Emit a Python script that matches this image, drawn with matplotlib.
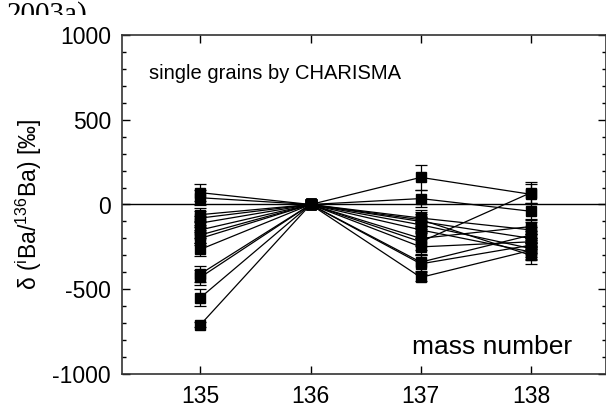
import matplotlib
matplotlib.use("Agg")
import matplotlib.pyplot as plt
import numpy as np
from matplotlib.patches import Rectangle
from matplotlib.ticker import MultipleLocator

plt.rcParams['font.family'] = ['Liberation Sans', 'DejaVu Sans']

mass_numbers = [135, 136, 137, 138]

# delta values (permil) per grain at masses 135, 136, 137, 138
d135 = [70, 40, -60, -80, -110, -150, -180, -200, -265, -410, -430, -550, -710]
d136 = [0, 0, 0, 0, 0, 0, 0, 0, 0, 0, 0, 0, 0]
d137 = [160, 35, -80, -100, -120, -200, -250, -90, -340, -430, -350, -220, -150]
d138 = [60, -40, -150, -200, -260, -130, -220, -300, -180, -270, -240, 70, -280]

e135 = [50, 45, 40, 40, 40, 45, 45, 40, 40, 45, 45, 50, 15]
e136 = [5, 5, 5, 5, 5, 5, 5, 5, 5, 5, 5, 5, 5]
e137 = [75, 50, 45, 45, 45, 45, 50, 45, 50, 20, 50, 50, 45]
e138 = [60, 50, 45, 45, 50, 45, 45, 50, 45, 50, 45, 60, 50]

yticks = [-1000, -500, 0, 500, 1000]
xticks = [135, 136, 137, 138]

fig = plt.figure(figsize=(6.06, 4.15), dpi=100)
ax = fig.add_axes([122/606, 41/415, 484/606, 339/415])

for i in range(len(d135)):
    ys = [d135[i], d136[i], d137[i], d138[i]]
    es = [e135[i], e136[i], e137[i], e138[i]]
    ax.errorbar(mass_numbers, ys, yerr=es, color='black', lw=0.9,
                marker='s', ms=6.5, mfc='black', mec='black',
                ecolor='black', elinewidth=0.9, capsize=4, capthick=0.9)

ax.axhline(0, color='black', lw=1.0, zorder=0)

ax.set_xlim(134.29, 138.68)
ax.set_ylim(-1000, 1000)
ax.set_xticks(xticks)
ax.set_xticklabels([str(t) for t in xticks])
ax.set_yticks(yticks)
ax.set_yticklabels([str(t) for t in yticks])
ax.yaxis.set_minor_locator(MultipleLocator(100))

ax.tick_params(axis='both', which='major', direction='in', top=True, right=True,
               labelsize=16.5, length=6, width=1, pad=8, colors='black')
ax.tick_params(axis='y', which='minor', direction='in', left=True, right=True,
               length=3, width=1)
for s in ax.spines.values():
    s.set_linewidth(1.2)
    s.set_color('#333333')

ax.set_ylabel(r'δ ($^{\mathregular{i}}$Ba/$^{\mathregular{136}}$Ba) [‰]', fontsize=16.5, labelpad=6)

ax.text(0.055, 0.885, 'single grains by CHARISMA', transform=ax.transAxes,
        fontsize=14.5, ha='left', va='center')
ax.text(0.6, 0.08, 'mass number', transform=ax.transAxes,
        fontsize=19, ha='left', va='center')

fig.text(7/606, 1 - 1/415, '2003a)', fontsize=21, family=['Liberation Serif'],
         ha='left', va='top', zorder=-2)
fig.add_artist(Rectangle((0, 1 - 27/415), 110/606, 12/415, transform=fig.transFigure,
                         facecolor='white', edgecolor='none', zorder=-1))

fig.savefig('out.png', dpi=100)
